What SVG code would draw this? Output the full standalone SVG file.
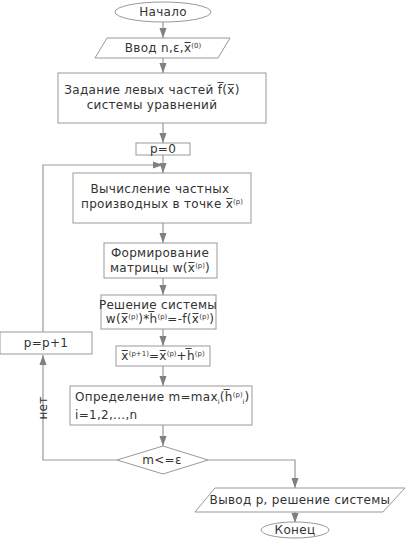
<svg xmlns="http://www.w3.org/2000/svg" width="409" height="540" viewBox="0 0 409 540">
<style>
.b{fill:#fff;stroke:#999;stroke-width:1}
.t{font-family:"DejaVu Sans",sans-serif;font-size:12px;letter-spacing:0.3px;fill:#333;text-anchor:middle}
.l{text-anchor:start}
.c{fill:none;stroke:#999;stroke-width:1.2}
.s{font-size:7px;letter-spacing:0}
</style>
<defs>
<marker id="a" viewBox="0 0 10 14" refX="14" refY="5" markerWidth="14" markerHeight="10" markerUnits="userSpaceOnUse" orient="auto">
<path d="M0,0 L14,5 L0,10 z" fill="#808080"/>
</marker>
</defs>
<rect width="409" height="540" fill="#fff"/>
<g id="connectors">
<path class="c" d="M163,22 V38" marker-end="url(#a)"/>
<path class="c" d="M163,58 V73" marker-end="url(#a)"/>
<path class="c" d="M163,123 V143" marker-end="url(#a)"/>
<path class="c" d="M163,155 V173" marker-end="url(#a)"/>
<path class="c" d="M163,223 V243" marker-end="url(#a)"/>
<path class="c" d="M163,278 V295" marker-end="url(#a)"/>
<path class="c" d="M163,329 V346" marker-end="url(#a)"/>
<path class="c" d="M163,366 V386" marker-end="url(#a)"/>
<path class="c" d="M163,425 V446" marker-end="url(#a)"/>
<path class="c" d="M117,460 H43 V355" marker-end="url(#a)"/>
<path class="c" d="M43,332 V165 H163" marker-end="url(#a)"/>
<path class="c" d="M208,460 H295 V488" marker-end="url(#a)"/>
<path class="c" d="M295,512 V523" marker-end="url(#a)"/>
<text class="t" transform="translate(47,408) rotate(-90)">нет</text>
</g>
<g id="start">
<ellipse class="b" cx="163" cy="12" rx="48" ry="10"/>
<text class="t" x="163" y="16">Начало</text>
</g>
<g id="input">
<polygon class="b" points="107,38 230,38 218,58 95,58"/>
<text class="t" x="163" y="52">Ввод n,ε,x̅<tspan class="s" dy="-4">(0)</tspan></text>
</g>
<g id="define">
<rect class="b" x="58" y="73" width="208" height="50"/>
<text class="t" x="152" y="94">Задание левых частей f̅(x̅)</text>
<text class="t" x="152" y="109">системы уравнений</text>
</g>
<g id="p0">
<rect class="b" x="136" y="143" width="54" height="12"/>
<text class="t" x="163" y="153">p=0</text>
</g>
<g id="deriv">
<rect class="b" x="73" y="173" width="178" height="50"/>
<text class="t" x="160" y="193">Вычисление частных</text>
<text class="t" x="162" y="208">производных в точке x̅<tspan class="s" dy="-4">(p)</tspan></text>
</g>
<g id="matrix">
<rect class="b" x="104" y="243" width="113" height="35"/>
<text class="t" x="160" y="257">Формирование</text>
<text class="t" x="160" y="272">матрицы w(x̅<tspan class="s" dy="-4">(p)</tspan><tspan dy="4">)</tspan></text>
</g>
<g id="solve">
<rect class="b" x="101" y="295" width="115" height="34"/>
<text class="t" x="158" y="309">Решение системы</text>
<text class="t" x="160" y="323">w(x̅<tspan class="s" dy="-4">(p)</tspan><tspan dy="4">)*h̅</tspan><tspan class="s" dy="-4">(p)</tspan><tspan dy="4">=-f(x̅</tspan><tspan class="s" dy="-4">(p)</tspan><tspan dy="4">)</tspan></text>
</g>
<g id="update">
<rect class="b" x="116" y="346" width="94" height="20"/>
<text class="t" x="163" y="360">x̅<tspan class="s" dy="-4">(p+1)</tspan><tspan dy="4">=x̅</tspan><tspan class="s" dy="-4">(p)</tspan><tspan dy="4">+h̅</tspan><tspan class="s" dy="-4">(p)</tspan></text>
</g>
<g id="max">
<rect class="b" x="70" y="386" width="182" height="39"/>
<text class="t l" x="75" y="401">Определение m=max<tspan class="s" dy="3">i</tspan><tspan dy="-3">(h̅</tspan><tspan class="s" dy="-4">(p)</tspan><tspan class="s" dy="7">i</tspan><tspan dy="-3">)</tspan></text>
<text class="t l" x="75" y="419">i=1,2,...,n</text>
</g>
<g id="cond">
<polygon class="b" points="117,460 163,446 208,460 163,474"/>
<text class="t" x="162" y="464">m&lt;=ε</text>
</g>
<g id="pinc">
<rect class="b" x="0" y="332" width="92" height="22"/>
<text class="t" x="46" y="347">p=p+1</text>
</g>
<g id="output">
<polygon class="b" points="215,488 405,488 383,512 195,512"/>
<text class="t" x="300" y="504">Вывод p, решение системы</text>
</g>
<g id="end">
<ellipse class="b" cx="295" cy="530" rx="34" ry="8"/>
<text class="t" x="295" y="534">Конец</text>
</g>
</svg>
